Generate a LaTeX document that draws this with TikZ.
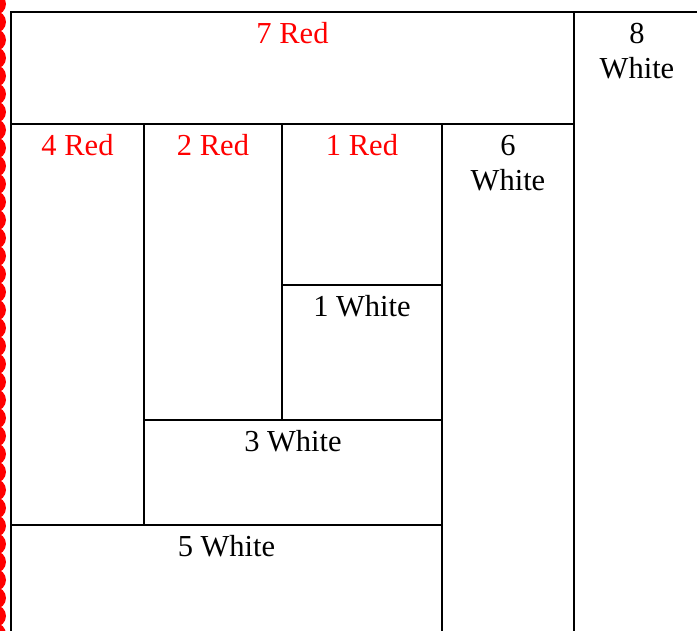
\documentclass[tikz,border=0pt]{standalone}
\usepackage{fontspec}
\setmainfont{Liberation Serif}
\definecolor{redtxt}{RGB}{255,0,0}
\begin{document}
\begin{tikzpicture}[x=1pt,y=-1pt,
  wall/.style={draw=black,line width=2pt},
  lbl/.style={anchor=base,inner sep=0pt,font=\fontsize{30.5}{35}\selectfont,align=center},
  redlbl/.style={lbl,text=redtxt}]
\useasboundingbox (0,0) rectangle (697,630);
\begin{scope}
\clip (0,0) rectangle (697,630);
\foreach \k in {-1,...,35}{
  \fill[redtxt] (-5,22+18*\k) circle[radius=11];
}
% outer lines
\draw[wall] (11,631) -- (11,12) -- (698,12);
\draw[wall] (11,124) -- (574,124);
\draw[wall] (574,12) -- (574,631);
\draw[wall] (144,124) -- (144,525);
\draw[wall] (282,124) -- (282,420);
\draw[wall] (442,124) -- (442,631);
\draw[wall] (282,285) -- (442,285);
\draw[wall] (144,420) -- (442,420);
\draw[wall] (11,525) -- (442,525);
\end{scope}
\node[redlbl] (r7) at (292.5,43) {7 Red};
\node[lbl,anchor=base] (w8a) at (637,43) {8};
\node[lbl,anchor=base] (w8b) at (637,78) {White};
\node[redlbl] (r4) at (77.5,155) {4 Red};
\node[redlbl] (r2) at (213,155) {2 Red};
\node[redlbl] (r1) at (362,155) {1 Red};
\node[lbl] (w6a) at (508,155) {6};
\node[lbl] (w6b) at (508,190) {White};
\node[lbl] (w1) at (362,316) {1 White};
\node[lbl] (w3) at (293,451) {3 White};
\node[lbl] (w5) at (226.5,556) {5 White};
\end{tikzpicture}
\end{document}
